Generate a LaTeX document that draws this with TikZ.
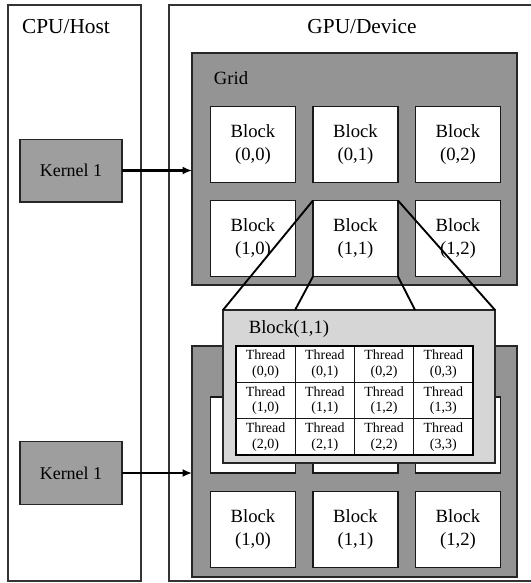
\documentclass[tikz,border=0pt]{standalone}
\usepackage{fontspec}
\setmainfont{Liberation Serif}
\usetikzlibrary{arrows.meta,positioning,calc}

\begin{document}
\begin{tikzpicture}[
  x=0.75pt, y=-0.75pt,
  >={Latex[length=7pt,width=6pt]},
  panel/.style={rectangle, draw=black!80, line width=0.9pt, minimum width=99.75pt,
                minimum height=432pt, inner sep=0pt, outer sep=0pt},
  head/.style={font=\fontsize{16}{19}\selectfont},
  gridbox/.style={rectangle, draw=black!85, fill=black!42, line width=1.2pt,
                  minimum width=243.75pt, minimum height=174pt, outer sep=0pt},
  gridlbl/.style={font=\fontsize{14}{17}\selectfont},
  blk/.style={rectangle, draw=black!90, fill=white, line width=1.3pt,
              minimum width=63.75pt, minimum height=57pt, align=center,
              inner sep=0pt, outer sep=0pt, font=\fontsize{14}{17}\selectfont},
  kern/.style={rectangle, draw=black!85, fill=black!38, line width=1pt,
               minimum width=76.5pt, minimum height=47pt, outer sep=0pt,
               font=\fontsize{13.5}{16}\selectfont},
  zoombox/.style={rectangle, draw=black!85, fill=black!16, line width=1pt,
                  minimum width=204pt, minimum height=114.75pt, outer sep=0pt},
  thr/.style={rectangle, draw=black!90, fill=white, line width=0.9pt,
              minimum width=44.44pt, minimum height=27.25pt, align=center,
              inner sep=0pt, outer sep=0pt, font=\fontsize{10.5}{11.8}\selectfont},
  link/.style={->, line width=1.6pt, draw=black},
  spoke/.style={line width=1.4pt, draw=black},
]
\useasboundingbox (0,0) rectangle (531,583);

% host and device
\node[panel] (cpu) at (74.5,293) {};
\node[panel, minimum width=282pt] (gpu) at (357,293) {};
\node[head] (cpulbl) at (66,27) {CPU/Host};
\node[head] (gpulbl) at (362,27) {GPU/Device};

% first grid
\node[gridbox] (grid1) at (354.5,169) {};
\node[gridlbl] (g1lbl) at (231,78) {Grid};
\node[blk] (g1b00) at (253,144.5) {Block\\(0,0)};
\node[blk, right=13.1pt of g1b00] (g1b01) {Block\\(0,1)};
\node[blk, right=13.1pt of g1b01] (g1b02) {Block\\(0,2)};
\node[blk, below=13.5pt of g1b00] (g1b10) {Block\\(1,0)};
\node[blk, right=13.1pt of g1b10] (g1b11) {Block\\(1,1)};
\node[blk, right=13.1pt of g1b11] (g1b12) {Block\\(1,2)};

% second grid (top row hidden under the blow-up)
\node[gridbox, minimum height=173.25pt] (grid2) at (354.5,461.5) {};
\node[blk] (g2b00) at (253,435) {};
\node[blk, right=13.1pt of g2b00] (g2b01) {};
\node[blk, right=13.1pt of g2b01] (g2b02) {};
\node[blk, below=13.8pt of g2b00] (g2b10) {Block\\(1,0)};
\node[blk, right=13.1pt of g2b10] (g2b11) {Block\\(1,1)};
\node[blk, right=13.1pt of g2b11] (g2b12) {Block\\(1,2)};

% kernels
\node[kern] (kern1) at (71,170.5) {Kernel 1};
\node[kern] (kern2) at (71,473) {Kernel 1};

% block(1,1) blown up
\node[zoombox] (zoom) at (359,386.5) {};
\node[gridlbl] (zoomlbl) at (289,329) {Block(1,1)};
\node[thr] (t00) at (265.6,364.2) {Thread\\(0,0)};
\node[thr, right=0pt of t00] (t01) {Thread\\(0,1)};
\node[thr, right=0pt of t01] (t02) {Thread\\(0,2)};
\node[thr, right=0pt of t02] (t03) {Thread\\(0,3)};
\node[thr, below=0pt of t00] (t10) {Thread\\(1,0)};
\node[thr, right=0pt of t10] (t11) {Thread\\(1,1)};
\node[thr, right=0pt of t11] (t12) {Thread\\(1,2)};
\node[thr, right=0pt of t12] (t13) {Thread\\(1,3)};
\node[thr, below=0pt of t10] (t20) {Thread\\(2,0)};
\node[thr, right=0pt of t20] (t21) {Thread\\(2,1)};
\node[thr, right=0pt of t21] (t22) {Thread\\(2,2)};
\node[thr, right=0pt of t22] (t23) {Thread\\(3,3)};
\draw[line width=1.6pt] (t00.north west) rectangle (t23.south east);

\coordinate (zA) at ($(zoom.north west)!0.265!(zoom.north east)$);
\coordinate (zB) at ($(zoom.north west)!0.706!(zoom.north east)$);
\draw[spoke] (g1b11.north west) -- (zoom.north west);
\draw[spoke] (g1b11.south west) -- (zA);
\draw[spoke] (g1b11.south east) -- (zB);
\draw[spoke] (g1b11.north east) -- (zoom.north east);

\draw[link] (kern1.east) -- (kern1.east -| grid1.west);
\draw[link] (kern2.east) -- (kern2.east -| grid2.west);

\end{tikzpicture}
\end{document}
